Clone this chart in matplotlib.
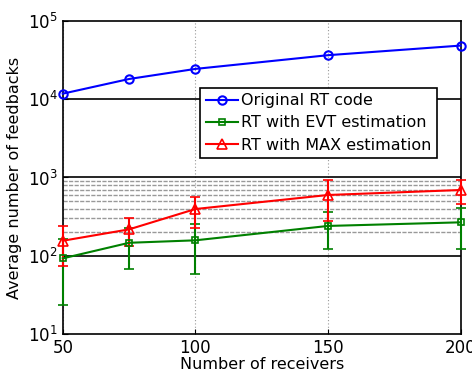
import matplotlib
matplotlib.use('Agg')
import matplotlib.pyplot as plt
from matplotlib.lines import Line2D

receivers = [50, 75, 100, 150, 200]

original_rt = [11700, 18000, 24200, 36200, 48000]

evt_mean = [93, 147, 158, 241, 268]
evt_err = [69, 79, 99, 119, 145]

max_mean = [156, 218, 396, 598, 692]
max_err = [82, 84, 170, 318, 235]

decades = [1e2, 1e3, 1e4]
minor_lines = [200, 300, 400, 500, 600, 700, 800, 900]

fig = plt.figure(figsize=(4.72, 3.74), dpi=100)
ax = fig.add_axes([0.133, 0.106, 0.843, 0.839])

# MATLAB-like grid lines
for x in [50, 100, 150, 200]:
    ax.axvline(x, color='0.6', linestyle=(0, (1, 2)), linewidth=0.8, zorder=0)
for y in minor_lines:
    ax.axhline(y, color='0.6', linestyle=(0, (3, 1)), linewidth=1.0, zorder=0)
for y in decades:
    ax.axhline(y, color='black', linewidth=1.2, zorder=0.5)

blue = dict(color='#0000ff', marker='o', markersize=6, markerfacecolor='none',
            markeredgewidth=1.5, linewidth=1.5)
green = dict(color='#008000', marker='s', markersize=5, markerfacecolor='none',
             markeredgewidth=1.2, linewidth=1.5)
red = dict(color='#ff0000', marker='^', markersize=6.5, markerfacecolor='none',
           markeredgewidth=1.2, linewidth=1.5)

ax.plot(receivers, original_rt, clip_on=False, zorder=3, **blue)
for mean, err, style in [(evt_mean, evt_err, green), (max_mean, max_err, red)]:
    eb = ax.errorbar(receivers, mean, yerr=err, capsize=3.5, capthick=1.5,
                     elinewidth=1.5, zorder=3, **style)
    for artist in eb.lines[1] + eb.lines[2] + (eb.lines[0],):
        artist.set_clip_on(False)

ax.set_yscale('log')
ax.set_xlim(50, 200)
ax.set_ylim(10, 1e5)
ax.set_xticks([50, 100, 150, 200])
ax.tick_params(labelsize=12, direction='in', which='both')
ax.tick_params(axis='y', which='minor', length=0)
for s in ax.spines.values():
    s.set_linewidth(1.2)

ax.set_xlabel('Number of receivers', fontsize=11.5, labelpad=0)
ax.set_ylabel('Average number of feedbacks', fontsize=11.5, labelpad=4)

handles = [Line2D([], [], **blue), Line2D([], [], **green), Line2D([], [], **red)]
labels = ['Original RT code', 'RT with EVT estimation', 'RT with MAX estimation']
leg = ax.legend(handles, labels, loc='upper right', bbox_to_anchor=(0.94, 0.786),
                fontsize=11.5, fancybox=False, framealpha=1, edgecolor='black',
                handlelength=2.0, handletextpad=0.2, borderpad=0.35,
                labelspacing=0.45, borderaxespad=0)
leg.get_frame().set_linewidth(1.2)

plt.savefig('out.png', dpi=100)
